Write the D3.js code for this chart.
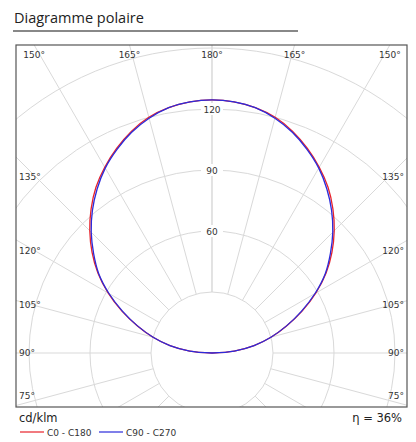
<!DOCTYPE html>
<html><head><meta charset="utf-8">
<script src="https://cdn.jsdelivr.net/npm/d3@7"></script>
<style>body{margin:0;background:#fff;font-family:"DejaVu Sans",sans-serif}</style>
</head><body><svg id="c" width="416" height="442"></svg>
<script>
const angles = [90,95,100,105,110,115,120,125,130,135,140,145,150,155,160,165,170,175,180];
const c0c180 = [0,11,21,30,39,49,59,68.5,77,85,92.5,99.5,105.5,111,116,120,122.5,124,124.5];
const c90c270 = [0,11,21,30,39,48.5,58.5,68,76,84,91.5,98.5,105,110.5,115.5,119.5,122.5,124,124.5];
const ringValues = [30,60,90,120,150,180,210];
const ringLabels = [60,90,120];
const spokeAngles = d3.range(0,181,15);
const topLabels = [150,165,180];
const sideLabels = [135,120,105,90,75];
const eta = "η = 36%";

const svg = d3.select("#c");
const cx = 212, cy = 353;
const box = {x0:16, y0:45, x1:407, y1:407};
const r = d3.scaleLinear().domain([0,30]).range([0,61]);

svg.append("text").attr("x",14).attr("y",23).attr("font-family","Open Sans").attr("font-size",14.5).attr("fill","#222").text("Diagramme polaire");
svg.append("line").attr("x1",13).attr("x2",298).attr("y1",31).attr("y2",31).attr("stroke","#888").attr("stroke-width",2);

svg.append("defs").append("clipPath").attr("id","clip").append("rect")
  .attr("x",box.x0).attr("y",box.y0).attr("width",box.x1-box.x0).attr("height",box.y1-box.y0);
const g = svg.append("g").attr("clip-path","url(#clip)");
const pt = (deg, v) => { const a = deg*Math.PI/180; return [cx + r(v)*Math.sin(a), cy + r(v)*Math.cos(a)]; };
spokeAngles.forEach(a => [1,-1].forEach(s => {
  const p0 = pt(a, 30), p1 = pt(a, 400);
  g.append("line").attr("x1",cx+s*(p0[0]-cx)).attr("y1",p0[1]).attr("x2",cx+s*(p1[0]-cx)).attr("y2",p1[1])
   .attr("stroke","#d9d9d9").attr("stroke-width",1);
}));
ringValues.forEach(v => g.append("circle").attr("cx",cx).attr("cy",cy).attr("r",r(v))
  .attr("fill", v===30 ? "#fff" : "none").attr("stroke","#d9d9d9").attr("stroke-width",1));
ringLabels.forEach(v => {
  const y = cy - r(v);
  g.append("rect").attr("x",cx-11).attr("y",y-6).attr("width",22).attr("height",12).attr("fill","#fff");
  g.append("text").attr("x",cx).attr("y",y+3.5).attr("text-anchor","middle").attr("font-size",9).attr("fill","#333").text(v);
});
function drawCurve(vals, color){
  const left = angles.map((a,i)=>{const p=pt(a,vals[i]);return [2*cx-p[0],p[1]];});
  const right = angles.map((a,i)=>pt(a,vals[i])).reverse();
  g.append("path").attr("d", d3.line().curve(d3.curveCatmullRom)(left.concat(right.slice(1))))
    .attr("fill","none").attr("stroke",color).attr("stroke-width",1.3);
}
drawCurve(c0c180, "#e8222a");
drawCurve(c90c270, "#2b2bdb");

svg.append("rect").attr("x",box.x0).attr("y",box.y0).attr("width",box.x1-box.x0).attr("height",box.y1-box.y0)
  .attr("fill","none").attr("stroke","#555").attr("stroke-width",1.2);

const lab = (x,y,t,anchor) => svg.append("text").attr("x",x).attr("y",y).attr("text-anchor",anchor)
  .attr("font-size",9).attr("fill","#333").text(t+"°");
topLabels.forEach(a => {
  const dx = Math.tan((180-a)*Math.PI/180)*(cy-box.y0);
  const x1 = Math.max(cx-dx, 33), x2 = Math.min(cx+dx, 391);
  lab(x1,58,a,"middle"); if (a!==180) lab(x2,58,a,"middle");
});
const sideY = {135:180, 120:254, 105:308, 90:356, 75:399};
sideLabels.forEach(a => { lab(19,sideY[a],a,"start"); lab(404,sideY[a],a,"end"); });

svg.append("text").attr("x",19).attr("y",422).attr("font-size",11.5).attr("fill","#222").text("cd/klm");
svg.append("text").attr("x",402).attr("y",422).attr("text-anchor","end").attr("font-size",11.5).attr("fill","#222").text(eta);
[["C0 - C180","#e8222a",20],["C90 - C270","#2b2bdb",99]].forEach(([t,c,x]) => {
  svg.append("line").attr("x1",x).attr("x2",x+24).attr("y1",432).attr("y2",432).attr("stroke",c).attr("stroke-width",1.2);
  svg.append("text").attr("x",x+27).attr("y",435.5).attr("font-size",9).attr("fill","#333").text(t);
});
</script></body></html>
